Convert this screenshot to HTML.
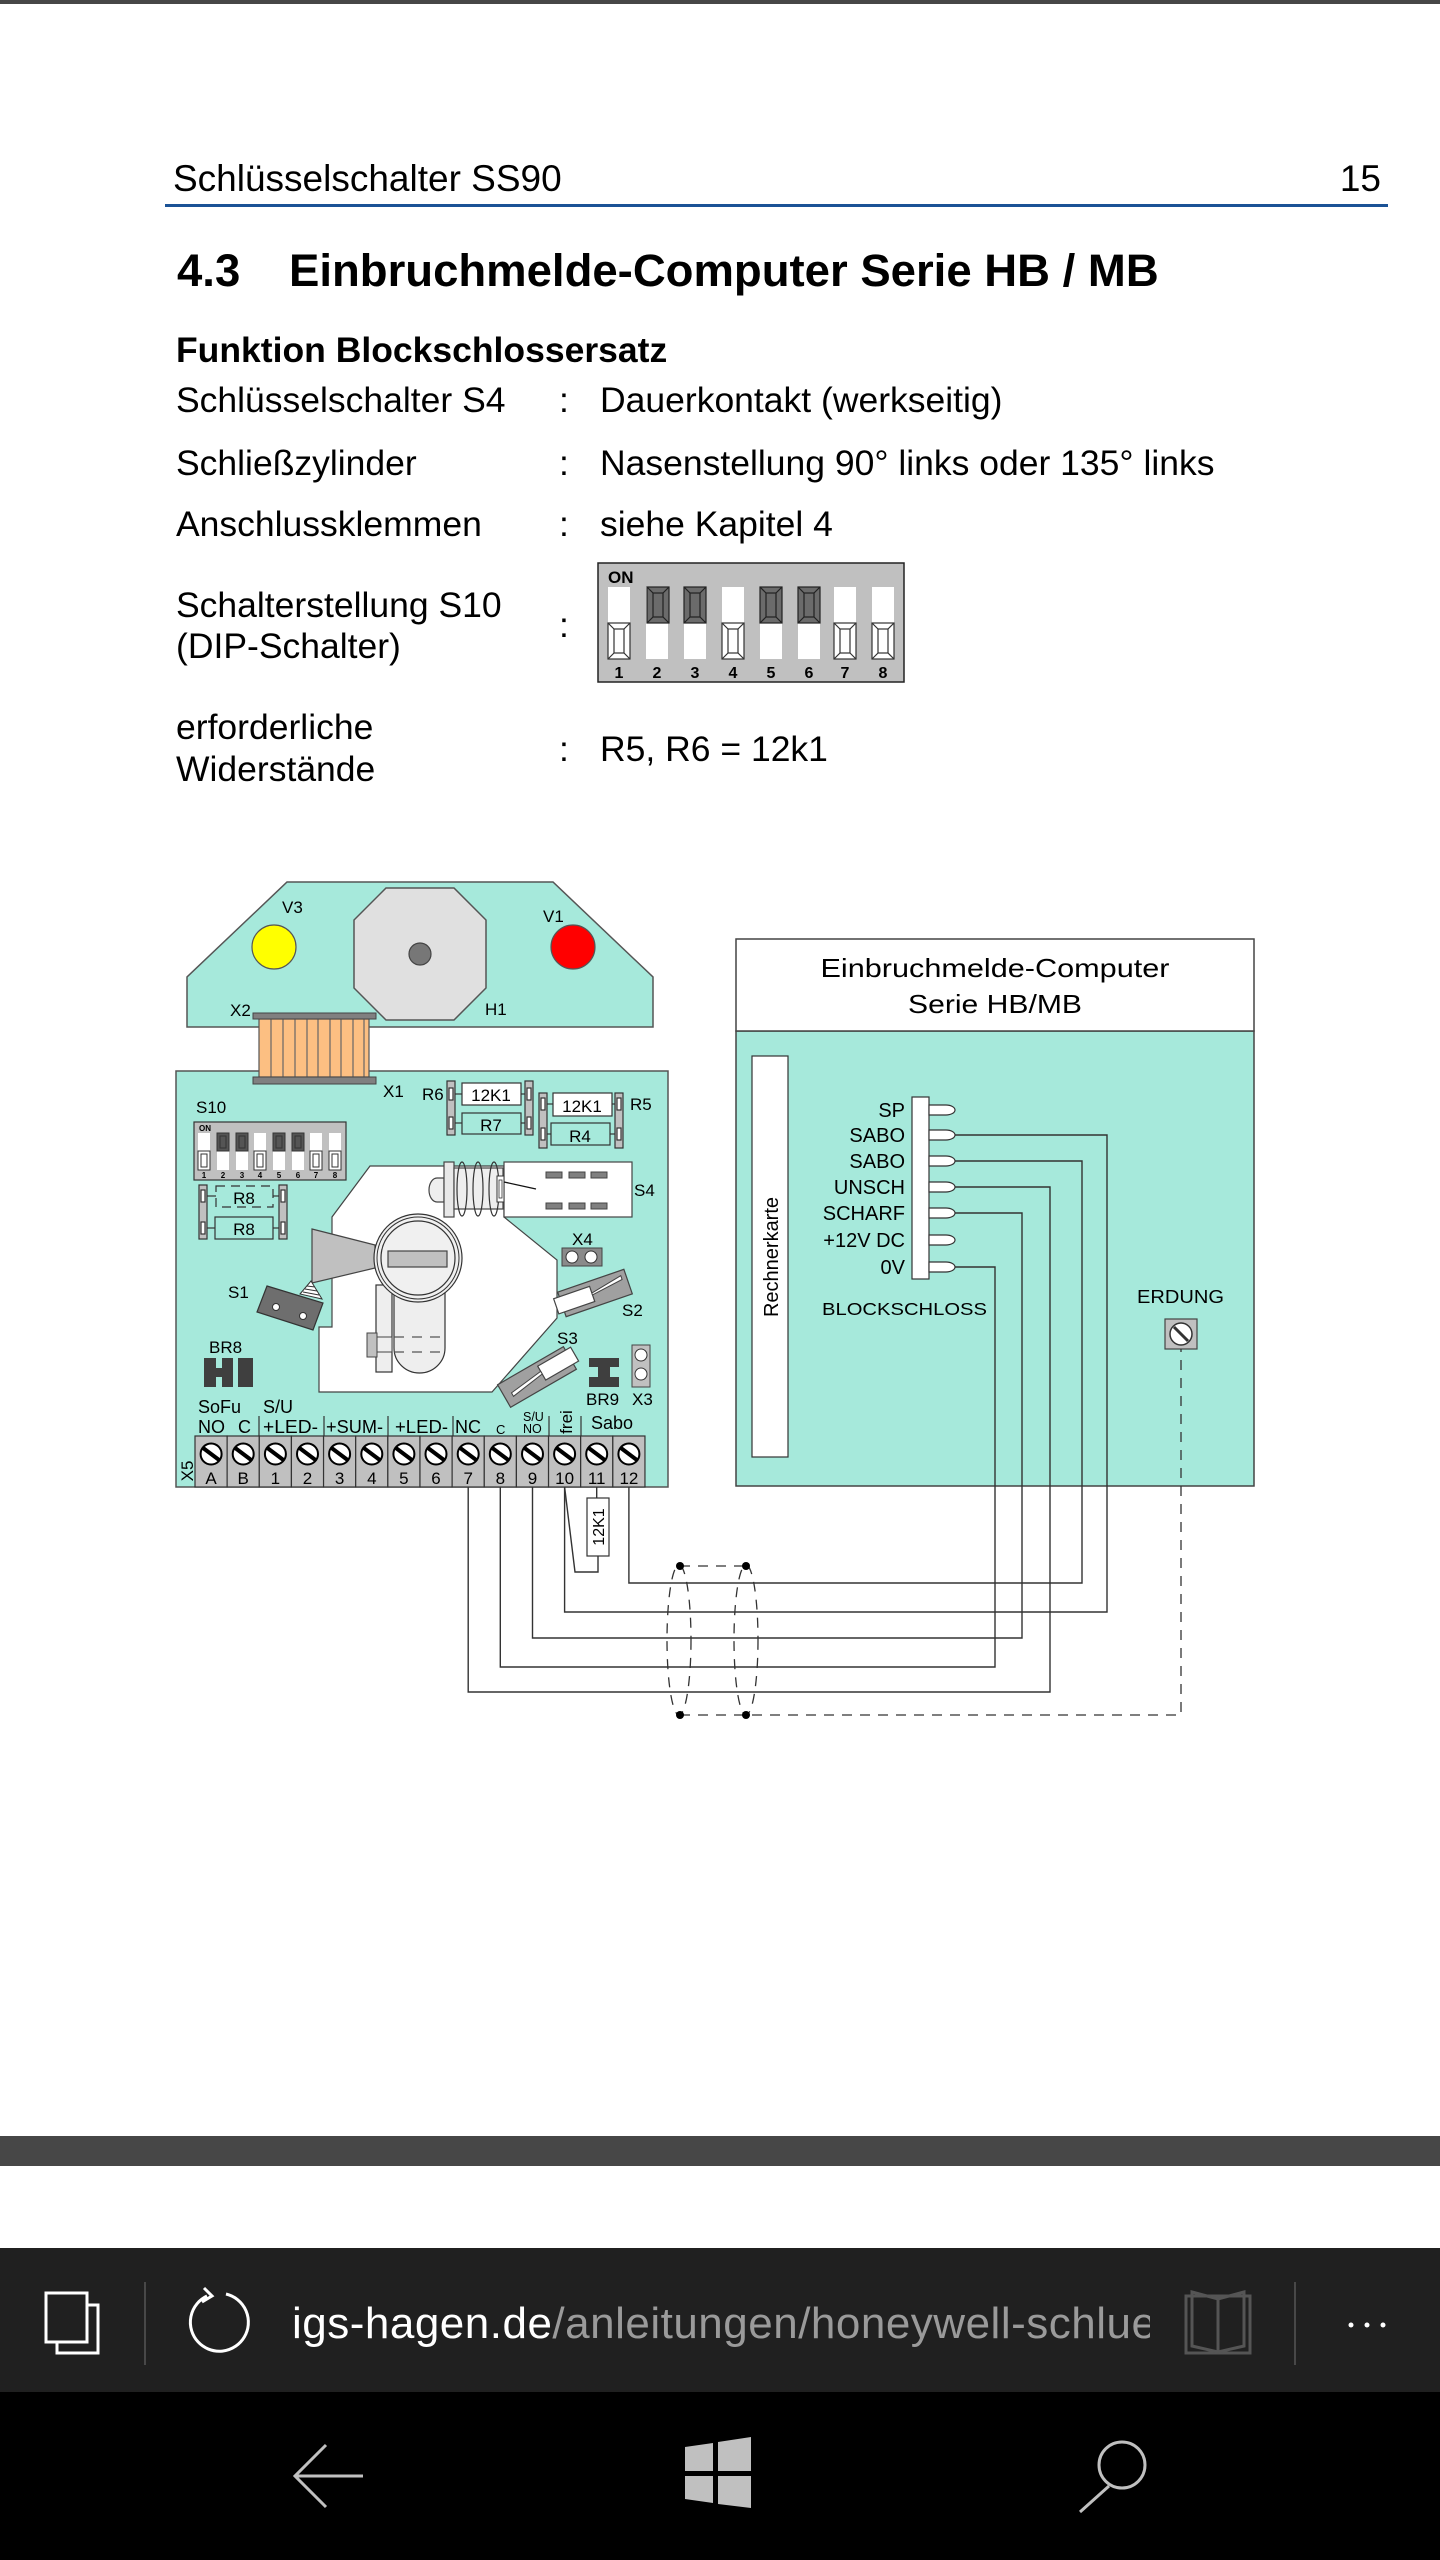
<!DOCTYPE html>
<html><head><meta charset="utf-8"><style>
html,body{margin:0;padding:0;background:#fff;}
svg{display:block;font-family:"Liberation Sans",Arial,sans-serif;}
</style></head><body>
<svg width="1440" height="2560" viewBox="0 0 1440 2560" xmlns="http://www.w3.org/2000/svg">
<defs>
<clipPath id="urlclip"><rect x="280" y="2280" width="870" height="90"/></clipPath>
</defs>
<rect x="0" y="0" width="1440" height="2560" fill="#fff"/>
<rect x="0" y="0" width="1440" height="4" fill="#474747"/>

<!-- page header -->
<text x="173" y="191" font-size="37" fill="#000">Schlüsselschalter SS90</text>
<text x="1381" y="191" font-size="37" text-anchor="end" fill="#000">15</text>
<rect x="165" y="204" width="1223" height="3" fill="#1b5296"/>
<text x="177" y="286" font-size="45.5" font-weight="bold">4.3</text>
<text x="289" y="286" font-size="45.5" font-weight="bold">Einbruchmelde-Computer Serie HB / MB</text>

<g font-size="35.5" fill="#000">
<text x="176" y="362" font-weight="bold">Funktion Blockschlossersatz</text>
<text x="176" y="412">Schlüsselschalter S4</text><text x="559" y="412">:</text><text x="600" y="412">Dauerkontakt (werkseitig)</text>
<text x="176" y="475">Schließzylinder</text><text x="559" y="475">:</text><text x="600" y="475">Nasenstellung 90° links oder 135° links</text>
<text x="176" y="536">Anschlussklemmen</text><text x="559" y="536">:</text><text x="600" y="536">siehe Kapitel 4</text>
<text x="176" y="617">Schalterstellung S10</text><text x="176" y="658">(DIP-Schalter)</text><text x="559" y="637">:</text>
<text x="176" y="739">erforderliche</text><text x="176" y="781">Widerstände</text><text x="559" y="761">:</text><text x="600" y="761">R5, R6 = 12k1</text>
</g>

<!-- big DIP switch -->
<rect x="598" y="563" width="306" height="119" fill="#c0c0c0" stroke="#222" stroke-width="1.5"/>
<text x="608" y="583" font-size="17" font-weight="bold">ON</text>
<g>
<g fill="#fff">
<rect x="608" y="587" width="22" height="72"/><rect x="646" y="587" width="22" height="72"/><rect x="684" y="587" width="22" height="72"/><rect x="722" y="587" width="22" height="72"/><rect x="760" y="587" width="22" height="72"/><rect x="798" y="587" width="22" height="72"/><rect x="834" y="587" width="22" height="72"/><rect x="872" y="587" width="22" height="72"/>
</g>
<g stroke="#333" stroke-width="1.2">
<g fill="#fff"><rect x="608" y="623" width="22" height="36"/><rect x="614" y="629" width="10" height="24"/><path d="M608 623L614 629M630 623L624 629M608 659L614 653M630 659L624 653"/></g>
<g fill="#6b6b6b" stroke="#222"><rect x="647" y="587" width="22" height="36"/><rect x="653" y="593" width="10" height="24"/><path d="M647 587L653 593M669 587L663 593M647 623L653 617M669 623L663 617"/></g>
<g fill="#6b6b6b" stroke="#222"><rect x="684" y="587" width="22" height="36"/><rect x="690" y="593" width="10" height="24"/><path d="M684 587L690 593M706 587L700 593M684 623L690 617M706 623L700 617"/></g>
<g fill="#fff"><rect x="722" y="623" width="22" height="36"/><rect x="728" y="629" width="10" height="24"/><path d="M722 623L728 629M744 623L738 629M722 659L728 653M744 659L738 653"/></g>
<g fill="#6b6b6b" stroke="#222"><rect x="760" y="587" width="22" height="36"/><rect x="766" y="593" width="10" height="24"/><path d="M760 587L766 593M782 587L776 593M760 623L766 617M782 623L776 617"/></g>
<g fill="#6b6b6b" stroke="#222"><rect x="798" y="587" width="22" height="36"/><rect x="804" y="593" width="10" height="24"/><path d="M798 587L804 593M820 587L814 593M798 623L804 617M820 623L814 617"/></g>
<g fill="#fff"><rect x="834" y="623" width="22" height="36"/><rect x="840" y="629" width="10" height="24"/><path d="M834 623L840 629M856 623L850 629M834 659L840 653M856 659L850 653"/></g>
<g fill="#fff"><rect x="872" y="623" width="22" height="36"/><rect x="878" y="629" width="10" height="24"/><path d="M872 623L878 629M894 623L888 629M872 659L878 653M894 659L888 653"/></g>
</g>
<g font-size="16" font-weight="bold" text-anchor="middle">
<text x="619" y="678">1</text><text x="657" y="678">2</text><text x="695" y="678">3</text><text x="733" y="678">4</text><text x="771" y="678">5</text><text x="809" y="678">6</text><text x="845" y="678">7</text><text x="883" y="678">8</text>
</g>
</g>

<!-- ===== DIAGRAM ===== -->
<g stroke-linejoin="miter">
<!-- top board -->
<polygon points="287,882 553,882 653,977 653,1027 187,1027 187,977" fill="#a6e9db" stroke="#555" stroke-width="1.5"/>
<circle cx="274" cy="947" r="22" fill="#ffff00" stroke="#555" stroke-width="1.2"/>
<circle cx="573" cy="947" r="22" fill="#ff0000" stroke="#555" stroke-width="1.2"/>
<polygon points="386,888 454,888 486,920 486,988 454,1020 386,1020 354,988 354,920" fill="#e0e0e0" stroke="#555" stroke-width="1.5"/>
<circle cx="420" cy="954" r="11" fill="#777" stroke="#444" stroke-width="1.2"/>
<g font-size="17" fill="#000">
<text x="282" y="913">V3</text><text x="543" y="922">V1</text><text x="485" y="1015">H1</text><text x="230" y="1016">X2</text>
</g>

<!-- main board -->
<rect x="176" y="1071" width="492" height="416" fill="#a6e9db" stroke="#555" stroke-width="1.5"/>

<!-- connector X2/X1 -->
<rect x="259" y="1019" width="110" height="58" fill="#fcbf82" stroke="#555" stroke-width="1.2"/>
<g stroke="#666" stroke-width="1.2">
<line x1="271" y1="1019" x2="271" y2="1077"/><line x1="283" y1="1019" x2="283" y2="1077"/><line x1="295" y1="1019" x2="295" y2="1077"/><line x1="307" y1="1019" x2="307" y2="1077"/><line x1="318" y1="1019" x2="318" y2="1077"/><line x1="330" y1="1019" x2="330" y2="1077"/><line x1="341" y1="1019" x2="341" y2="1077"/><line x1="353" y1="1019" x2="353" y2="1077"/><line x1="364" y1="1019" x2="364" y2="1077"/>
</g>
<rect x="253" y="1013" width="123" height="6" fill="#808080" stroke="#444"/>
<rect x="253" y="1077" width="123" height="7" fill="#808080" stroke="#444"/>
<text x="383" y="1097" font-size="17">X1</text>

<!-- S10 small dip -->
<text x="196" y="1113" font-size="17">S10</text>
<rect x="194" y="1122" width="152" height="58" fill="#c0c0c0" stroke="#333" stroke-width="1.2"/>
<text x="199" y="1131" font-size="8" font-weight="bold">ON</text>
<g fill="#fff">
<rect x="198" y="1133" width="12" height="37"/><rect x="217" y="1133" width="12" height="37"/><rect x="236" y="1133" width="12" height="37"/><rect x="254" y="1133" width="12" height="37"/><rect x="273" y="1133" width="12" height="37"/><rect x="292" y="1133" width="12" height="37"/><rect x="310" y="1133" width="12" height="37"/><rect x="329" y="1133" width="12" height="37"/>
</g>
<g stroke="#333" stroke-width="1">
<rect x="198" y="1151" width="12" height="19" fill="#fff"/><rect x="201" y="1154" width="6" height="13" fill="none"/>
<rect x="217" y="1133" width="12" height="18" fill="#555"/><rect x="220" y="1136" width="6" height="12" fill="none"/>
<rect x="236" y="1133" width="12" height="18" fill="#555"/><rect x="239" y="1136" width="6" height="12" fill="none"/>
<rect x="254" y="1151" width="12" height="19" fill="#fff"/><rect x="257" y="1154" width="6" height="13" fill="none"/>
<rect x="273" y="1133" width="12" height="18" fill="#555"/><rect x="276" y="1136" width="6" height="12" fill="none"/>
<rect x="292" y="1133" width="12" height="18" fill="#555"/><rect x="295" y="1136" width="6" height="12" fill="none"/>
<rect x="310" y="1151" width="12" height="19" fill="#fff"/><rect x="313" y="1154" width="6" height="13" fill="none"/>
<rect x="329" y="1151" width="12" height="19" fill="#fff"/><rect x="332" y="1154" width="6" height="13" fill="none"/>
</g>
<g font-size="8" font-weight="bold" text-anchor="middle">
<text x="204" y="1178">1</text><text x="223" y="1178">2</text><text x="242" y="1178">3</text><text x="260" y="1178">4</text><text x="279" y="1178">5</text><text x="298" y="1178">6</text><text x="316" y="1178">7</text><text x="335" y="1178">8</text>
</g>

<!-- R6 / R7 -->
<g stroke="#333" stroke-width="1.2">
<line x1="455" y1="1094" x2="462" y2="1094"/><line x1="455" y1="1123" x2="462" y2="1123"/>
<line x1="521" y1="1094" x2="525" y2="1094"/><line x1="521" y1="1123" x2="525" y2="1123"/>
<rect x="447" y="1081" width="8" height="54" fill="#c0c0c0"/><rect x="449" y="1088" width="4" height="12" fill="#fff"/><rect x="449" y="1117" width="4" height="12" fill="#fff"/>
<rect x="525" y="1081" width="8" height="54" fill="#c0c0c0"/><rect x="527" y="1088" width="4" height="12" fill="#fff"/><rect x="527" y="1117" width="4" height="12" fill="#fff"/>
<rect x="462" y="1083" width="59" height="22" fill="#fff"/>
<rect x="462" y="1113" width="59" height="21" fill="#a6e9db"/>
<line x1="547" y1="1104" x2="553" y2="1104"/><line x1="547" y1="1134" x2="551" y2="1134"/>
<line x1="612" y1="1104" x2="615" y2="1104"/><line x1="610" y1="1134" x2="615" y2="1134"/>
<rect x="539" y="1093" width="8" height="55" fill="#c0c0c0"/><rect x="541" y="1098" width="4" height="12" fill="#fff"/><rect x="541" y="1128" width="4" height="12" fill="#fff"/>
<rect x="615" y="1093" width="8" height="55" fill="#c0c0c0"/><rect x="617" y="1098" width="4" height="12" fill="#fff"/><rect x="617" y="1128" width="4" height="12" fill="#fff"/>
<rect x="553" y="1093" width="59" height="23" fill="#fff"/>
<rect x="551" y="1123" width="59" height="22" fill="#a6e9db"/>
<line x1="207" y1="1196" x2="216" y2="1196"/><line x1="207" y1="1228" x2="215" y2="1228"/>
<line x1="273" y1="1196" x2="279" y2="1196"/><line x1="273" y1="1228" x2="279" y2="1228"/>
<rect x="199" y="1185" width="8" height="54" fill="#c0c0c0"/><rect x="201" y="1190" width="4" height="12" fill="#fff"/><rect x="201" y="1222" width="4" height="12" fill="#fff"/>
<rect x="279" y="1185" width="8" height="54" fill="#c0c0c0"/><rect x="281" y="1190" width="4" height="12" fill="#fff"/><rect x="281" y="1222" width="4" height="12" fill="#fff"/>
<rect x="216" y="1186" width="57" height="21" fill="none" stroke-dasharray="9 6"/>
<rect x="215" y="1217" width="58" height="22" fill="#a6e9db"/>
</g>
<g font-size="17" text-anchor="middle">
<text x="491" y="1101">12K1</text><text x="491" y="1131">R7</text>
<text x="582" y="1112">12K1</text><text x="580" y="1142">R4</text>
<text x="244" y="1204">R8</text><text x="244" y="1235">R8</text>
</g>
<text x="422" y="1100" font-size="17">R6</text>
<text x="630" y="1110" font-size="17">R5</text>

<!-- white lock area -->
<polygon points="370,1166 504,1166 504,1217 557,1260 557,1318 492,1392 319,1392 319,1327 332,1327 332,1217" fill="#fff" stroke="#444" stroke-width="1.2"/>

<!-- S4 plunger -->
<path d="M444 1178 L437 1178 A8 12 0 0 0 437 1202 L444 1202 Z" fill="#eee" stroke="#444" stroke-width="1.2"/>
<rect x="444" y="1162" width="10" height="55" fill="#e8e8e8" stroke="#444" stroke-width="1.2"/>
<rect x="454" y="1168" width="49" height="41" fill="#eee" stroke="#444" stroke-width="1.2"/>
<g fill="none" stroke="#333" stroke-width="1.2">
<ellipse cx="462" cy="1189" rx="5" ry="27"/><ellipse cx="478" cy="1189" rx="5" ry="27"/><ellipse cx="494" cy="1189" rx="5" ry="27"/>
</g>
<rect x="504" y="1162" width="128" height="55" fill="#fff" stroke="#444" stroke-width="1.2"/>
<rect x="497" y="1176" width="7" height="26" fill="#fff" stroke="#333"/><rect x="499" y="1180" width="3" height="18" fill="none" stroke="#333" stroke-width="0.8"/>
<line x1="504" y1="1182" x2="536" y2="1189" stroke="#111" stroke-width="1.3"/>
<g fill="#808080" stroke="#444">
<rect x="546" y="1172" width="16" height="6"/><rect x="569" y="1172" width="16" height="6"/><rect x="591" y="1172" width="16" height="6"/>
<rect x="546" y="1203" width="16" height="6"/><rect x="569" y="1203" width="16" height="6"/><rect x="591" y="1203" width="16" height="6"/>
</g>
<text x="634" y="1196" font-size="17">S4</text>

<!-- wedge -->
<polygon points="312,1229 375,1245 375,1268 312,1283" fill="#c0c0c0" stroke="#444" stroke-width="1.2"/>
<!-- cylinder lower -->
<rect x="376" y="1285" width="16" height="87" fill="#eee" stroke="#333" stroke-width="1.2"/>
<path d="M394 1290 L445 1290 L445 1348 A25.5 25 0 0 1 394 1348 Z" fill="#eee" stroke="#333" stroke-width="1.2"/>
<rect x="367" y="1333" width="10" height="24" fill="#c0c0c0" stroke="#444"/>
<rect x="377" y="1337" width="15" height="15" fill="#eee" stroke="#444"/>
<g stroke="#555" stroke-width="1.2" stroke-dasharray="10 8"><line x1="394" y1="1337" x2="445" y2="1337"/><line x1="394" y1="1352" x2="445" y2="1352"/></g>
<!-- cylinder circle -->
<circle cx="418" cy="1258" r="44" fill="#f0f0f0" stroke="#333" stroke-width="1.2"/>
<circle cx="418" cy="1258" r="41" fill="none" stroke="#333" stroke-width="1"/>
<circle cx="418" cy="1258" r="37" fill="#f0f0f0" stroke="#333" stroke-width="1.2"/>
<rect x="388" y="1251" width="59" height="16" fill="#c0c0c0" stroke="#444" stroke-width="1.2"/>

<!-- S1 -->
<polygon points="311,1281 322,1299 300,1294" fill="#fff" stroke="#333"/>
<g stroke="#333" stroke-width="0.9"><line x1="305" y1="1289" x2="317" y2="1291"/><line x1="303" y1="1292" x2="319" y2="1295"/><line x1="307" y1="1286" x2="315" y2="1287"/></g>
<polygon points="267,1286 323,1303 313,1330 257,1312" fill="#6e6e6e" stroke="#333" stroke-width="1.2"/>
<circle cx="276" cy="1307" r="3.5" fill="#fff" stroke="#333"/><circle cx="303" cy="1316" r="3.5" fill="#fff" stroke="#333"/>
<text x="228" y="1298" font-size="17">S1</text>

<!-- X4 -->
<text x="572" y="1245" font-size="17">X4</text>
<rect x="562" y="1248" width="40" height="18" fill="#8a8a8a" stroke="#444"/>
<circle cx="572" cy="1257" r="6" fill="#fff" stroke="#333"/><circle cx="591" cy="1257" r="6" fill="#fff" stroke="#333"/>

<!-- S2 -->
<g transform="translate(595 1293) rotate(-19)">
<rect x="-35" y="-13" width="70" height="26" fill="#a0a0a0" stroke="#444" stroke-width="1.2"/>
<rect x="-41" y="-8" width="38" height="16" fill="#fff" stroke="#444" stroke-width="1.2"/>
<polygon points="-3,-1 30,-8 30,-4 -3,1" fill="#fff" stroke="#444"/>
</g>
<text x="622" y="1316" font-size="17">S2</text>
<!-- S3 -->
<g transform="translate(537 1377) rotate(-30)">
<rect x="-38" y="-13" width="76" height="26" fill="#a0a0a0" stroke="#444" stroke-width="1.2"/>
<rect x="6" y="-9" width="38" height="16" fill="#fff" stroke="#444" stroke-width="1.2"/>
<polygon points="6,0 -30,5 -30,1 6,-3" fill="#fff" stroke="#444"/>
</g>
<text x="557" y="1344" font-size="17">S3</text>

<!-- BR8 -->
<text x="209" y="1353" font-size="17">BR8</text>
<g fill="#3f3f3f">
<rect x="204" y="1358" width="12" height="29"/><rect x="216" y="1368" width="6" height="9"/><rect x="222" y="1358" width="11" height="29"/><rect x="238" y="1358" width="15" height="29"/>
</g>
<!-- BR9 -->
<g fill="#3f3f3f">
<rect x="589" y="1358" width="30" height="9"/><rect x="598" y="1367" width="12" height="10"/><rect x="589" y="1377" width="30" height="10"/>
</g>
<rect x="632" y="1345" width="18" height="42" fill="#c0c0c0" stroke="#444"/>
<circle cx="641" cy="1355" r="6" fill="#fff" stroke="#333"/><circle cx="641" cy="1374" r="6" fill="#fff" stroke="#333"/>
<text x="586" y="1405" font-size="17">BR9</text>
<text x="632" y="1405" font-size="17">X3</text>

<!-- terminal labels -->
<g font-size="18">
<text x="198" y="1413">SoFu</text><text x="263" y="1413">S/U</text>
<text x="198" y="1433">NO</text><text x="238" y="1433">C</text>
<text x="263" y="1433" textLength="55" lengthAdjust="spacingAndGlyphs">+LED-</text>
<text x="326" y="1433" textLength="57" lengthAdjust="spacingAndGlyphs">+SUM-</text>
<text x="395" y="1433" textLength="53" lengthAdjust="spacingAndGlyphs">+LED-</text>
<text x="455" y="1433">NC</text>
<text x="591" y="1429">Sabo</text>
</g>
<text x="496" y="1434" font-size="13">C</text>
<text x="523" y="1421" font-size="12.5">S/U</text>
<text x="523" y="1433" font-size="12.5">NO</text>
<text transform="translate(572 1422) rotate(-90)" font-size="17" text-anchor="middle">frei</text>
<g stroke="#333" stroke-width="1.2">
<line x1="259" y1="1416" x2="259" y2="1436"/><line x1="324" y1="1416" x2="324" y2="1436"/><line x1="388" y1="1416" x2="388" y2="1436"/><line x1="453" y1="1416" x2="453" y2="1436"/><line x1="549" y1="1416" x2="549" y2="1436"/><line x1="581" y1="1416" x2="581" y2="1436"/>
</g>
<text transform="translate(193 1471) rotate(-90)" font-size="17" text-anchor="middle">X5</text>

<!-- terminal block -->
<g stroke="#333" stroke-width="1.2" fill="#c0c0c0">
<rect x="195" y="1436" width="32.14" height="51"/><rect x="227.14" y="1436" width="32.14" height="51"/><rect x="259.28" y="1436" width="32.14" height="51"/><rect x="291.42" y="1436" width="32.14" height="51"/><rect x="323.56" y="1436" width="32.14" height="51"/><rect x="355.7" y="1436" width="32.14" height="51"/><rect x="387.84" y="1436" width="32.14" height="51"/><rect x="419.98" y="1436" width="32.14" height="51"/><rect x="452.12" y="1436" width="32.14" height="51"/><rect x="484.26" y="1436" width="32.14" height="51"/><rect x="516.4" y="1436" width="32.14" height="51"/><rect x="548.54" y="1436" width="32.14" height="51"/><rect x="580.68" y="1436" width="32.14" height="51"/><rect x="612.82" y="1436" width="32.14" height="51"/>
</g>
<g fill="#fff" stroke="#000" stroke-width="2">
<circle cx="211.1" cy="1454" r="10.5"/><circle cx="243.2" cy="1454" r="10.5"/><circle cx="275.4" cy="1454" r="10.5"/><circle cx="307.5" cy="1454" r="10.5"/><circle cx="339.6" cy="1454" r="10.5"/><circle cx="371.8" cy="1454" r="10.5"/><circle cx="403.9" cy="1454" r="10.5"/><circle cx="436" cy="1454" r="10.5"/><circle cx="468.2" cy="1454" r="10.5"/><circle cx="500.3" cy="1454" r="10.5"/><circle cx="532.5" cy="1454" r="10.5"/><circle cx="564.6" cy="1454" r="10.5"/><circle cx="596.7" cy="1454" r="10.5"/><circle cx="628.9" cy="1454" r="10.5"/>
</g>
<g stroke="#000" stroke-width="4">
<line x1="203.1" y1="1448" x2="219.1" y2="1460"/><line x1="235.2" y1="1448" x2="251.2" y2="1460"/><line x1="267.4" y1="1448" x2="283.4" y2="1460"/><line x1="299.5" y1="1448" x2="315.5" y2="1460"/><line x1="331.6" y1="1448" x2="347.6" y2="1460"/><line x1="363.8" y1="1448" x2="379.8" y2="1460"/><line x1="395.9" y1="1448" x2="411.9" y2="1460"/><line x1="428" y1="1448" x2="444" y2="1460"/><line x1="460.2" y1="1448" x2="476.2" y2="1460"/><line x1="492.3" y1="1448" x2="508.3" y2="1460"/><line x1="524.5" y1="1448" x2="540.5" y2="1460"/><line x1="556.6" y1="1448" x2="572.6" y2="1460"/><line x1="588.7" y1="1448" x2="604.7" y2="1460"/><line x1="620.9" y1="1448" x2="636.9" y2="1460"/>
</g>
<g font-size="17" text-anchor="middle">
<text x="211.1" y="1484">A</text><text x="243.2" y="1484">B</text><text x="275.4" y="1484">1</text><text x="307.5" y="1484">2</text><text x="339.6" y="1484">3</text><text x="371.8" y="1484">4</text><text x="403.9" y="1484">5</text><text x="436" y="1484">6</text><text x="468.2" y="1484">7</text><text x="500.3" y="1484">8</text><text x="532.5" y="1484">9</text><text x="564.6" y="1484">10</text><text x="596.7" y="1484">11</text><text x="628.9" y="1484">12</text>
</g>

<!-- right box -->
<rect x="736" y="1031" width="518" height="455" fill="#a6e9db" stroke="#444" stroke-width="1.5"/>
<rect x="736" y="939" width="518" height="92" fill="#fff" stroke="#444" stroke-width="1.5"/>
<text x="995" y="977" font-size="26" text-anchor="middle" textLength="349" lengthAdjust="spacingAndGlyphs">Einbruchmelde-Computer</text>
<text x="995" y="1013" font-size="26" text-anchor="middle" textLength="174" lengthAdjust="spacingAndGlyphs">Serie HB/MB</text>
<rect x="752" y="1056" width="36" height="401" fill="#fff" stroke="#333" stroke-width="1.2"/>
<text transform="translate(778 1257) rotate(-90)" font-size="20" text-anchor="middle">Rechnerkarte</text>
<rect x="912" y="1097" width="17" height="182" fill="#fff" stroke="#333" stroke-width="1.2"/>
<g fill="#fff" stroke="#333" stroke-width="1.2">
<path d="M929 1105 L946 1105 A9 5 0 0 1 946 1115 L929 1115 Z"/>
<path d="M929 1130 L946 1130 A9 5 0 0 1 946 1140 L929 1140 Z"/>
<path d="M929 1156 L946 1156 A9 5 0 0 1 946 1166 L929 1166 Z"/>
<path d="M929 1182 L946 1182 A9 5 0 0 1 946 1192 L929 1192 Z"/>
<path d="M929 1208 L946 1208 A9 5 0 0 1 946 1218 L929 1218 Z"/>
<path d="M929 1235 L946 1235 A9 5 0 0 1 946 1245 L929 1245 Z"/>
<path d="M929 1262 L946 1262 A9 5 0 0 1 946 1272 L929 1272 Z"/>
</g>
<g font-size="20" text-anchor="end">
<text x="905" y="1117">SP</text><text x="905" y="1142">SABO</text><text x="905" y="1168">SABO</text><text x="905" y="1194">UNSCH</text><text x="905" y="1220">SCHARF</text><text x="905" y="1247">+12V DC</text><text x="905" y="1274">0V</text>
</g>
<text x="822" y="1315" font-size="17.5" textLength="165" lengthAdjust="spacingAndGlyphs">BLOCKSCHLOSS</text>
<text x="1137" y="1303" font-size="18" textLength="87" lengthAdjust="spacingAndGlyphs">ERDUNG</text>
<rect x="1165" y="1319" width="32" height="30" fill="#c0c0c0" stroke="#444" stroke-width="1.2"/>
<circle cx="1181" cy="1334" r="11" fill="#fff" stroke="#333" stroke-width="1.5"/>
<line x1="1174" y1="1327" x2="1188" y2="1341" stroke="#333" stroke-width="3"/>

<!-- wires -->
<g fill="none" stroke="#333" stroke-width="1.4">
<polyline points="468.2,1487 468.2,1692 1050,1692 1050,1187 955,1187"/>
<polyline points="500.3,1487 500.3,1667 995,1667 995,1267 955,1267"/>
<polyline points="532.5,1487 532.5,1638 1022,1638 1022,1213 955,1213"/>
<polyline points="564.6,1487 564.6,1612 1107,1612 1107,1135 955,1135"/>
<polyline points="628.9,1487 628.9,1583 1082,1583 1082,1161 955,1161"/>
<polyline points="564.6,1487 575,1572 598,1572 598,1556"/>
<line x1="596.7" y1="1487" x2="596.7" y2="1498"/>
</g>
<rect x="587" y="1498" width="22" height="58" fill="#fff" stroke="#333" stroke-width="1.2"/>
<text transform="translate(604 1527) rotate(-90)" font-size="16" text-anchor="middle">12K1</text>

<!-- shield & earth -->
<g fill="none" stroke="#333" stroke-width="1.3" stroke-dasharray="10 8">
<ellipse cx="679" cy="1640" rx="12" ry="75"/>
<ellipse cx="746" cy="1640" rx="12" ry="75"/>
<line x1="680" y1="1566" x2="746" y2="1566"/>
<polyline points="680,1715 1181,1715 1181,1349"/>
</g>
<g fill="#000"><circle cx="680" cy="1566" r="4"/><circle cx="746" cy="1566" r="4"/><circle cx="680" cy="1715" r="4"/><circle cx="746" cy="1715" r="4"/></g>
</g>

<!-- bottom browser chrome -->
<rect x="0" y="2136" width="1440" height="30" fill="#474747"/>
<rect x="0" y="2248" width="1440" height="144" fill="#202020"/>
<rect x="0" y="2392" width="1440" height="168" fill="#000"/>
<rect x="57" y="2305" width="41" height="48" fill="none" stroke="#fff" stroke-width="3"/>
<rect x="46" y="2293" width="41" height="49" fill="#202020" stroke="#fff" stroke-width="3"/>
<line x1="145" y1="2282" x2="145" y2="2365" stroke="#555" stroke-width="1.5"/>
<path d="M226 2294 A29 29 0 1 1 207 2296" fill="none" stroke="#fff" stroke-width="3"/>
<polyline points="204,2288 212,2296 202,2302" fill="none" stroke="#fff" stroke-width="3"/>
<g clip-path="url(#urlclip)" font-size="44" letter-spacing="0.5">
<text x="292" y="2338"><tspan fill="#fff">igs-hagen.de</tspan><tspan fill="#9a9a9a">/anleitungen/honeywell-schluessel</tspan></text>
</g>
<g fill="none" stroke="#555" stroke-width="3">
<rect x="1186" y="2296" width="64" height="57"/>
<path d="M1192 2292 L1218 2299 L1244 2292 L1244 2346 L1218 2352 L1192 2346 Z"/>
<line x1="1218" y1="2299" x2="1218" y2="2352"/>
</g>
<line x1="1295" y1="2282" x2="1295" y2="2365" stroke="#555" stroke-width="1.5"/>
<g fill="#fff"><circle cx="1351" cy="2325" r="2.5"/><circle cx="1367" cy="2325" r="2.5"/><circle cx="1383" cy="2325" r="2.5"/></g>
<g stroke="#c0c0c0" stroke-width="3" fill="none">
<line x1="296" y1="2476" x2="363" y2="2476"/>
<polyline points="326,2445 295,2476 326,2507"/>
<circle cx="1122" cy="2465" r="23"/>
<line x1="1109" y1="2486" x2="1080" y2="2512"/>
</g>
<g fill="#c0c0c0">
<polygon points="685,2447 713,2443 713,2471 685,2471"/>
<polygon points="718,2442 751,2437 751,2471 718,2471"/>
<polygon points="685,2476 713,2476 713,2503 685,2499"/>
<polygon points="718,2476 751,2476 751,2508 718,2504"/>
</g>
</svg>
</body></html>
